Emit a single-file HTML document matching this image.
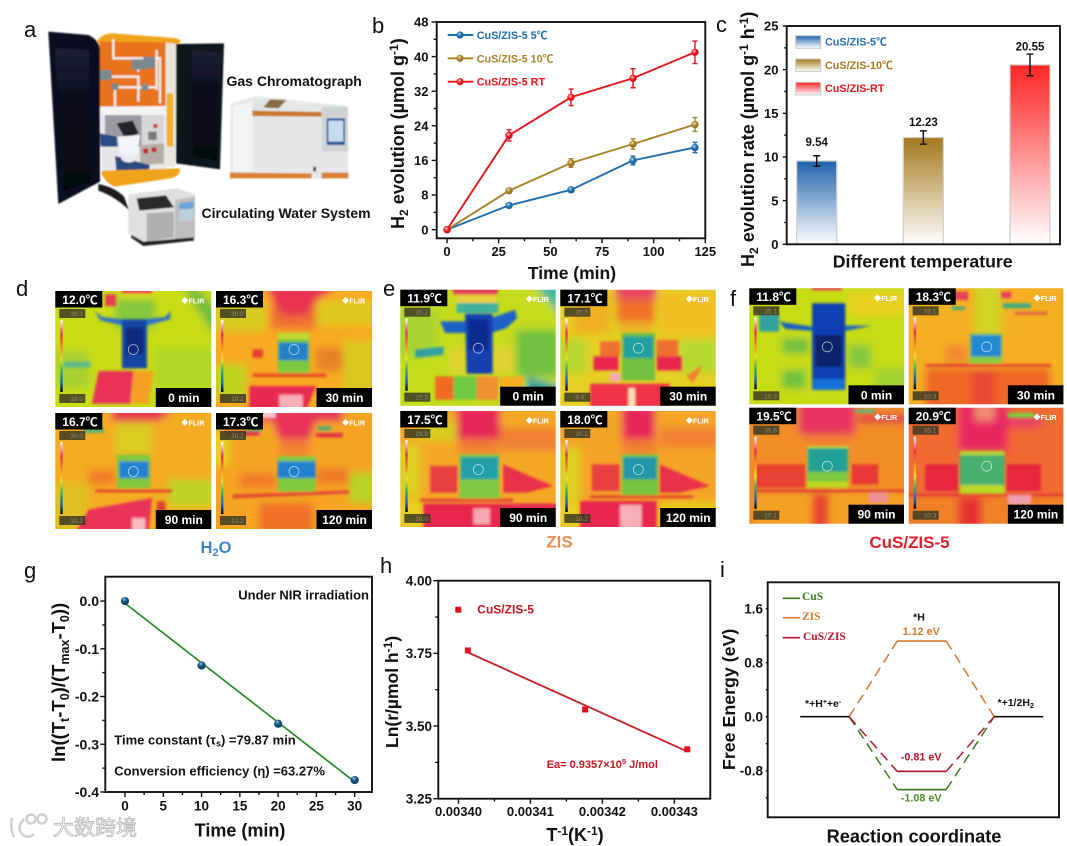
<!DOCTYPE html>
<html lang="en">
<head>
<meta charset="utf-8">
<title>CuS/ZIS-5 photothermal figure</title>
<style>
html,body{margin:0;padding:0;background:#fff;width:1067px;height:846px;overflow:hidden}
svg text{font-family:"Liberation Sans","Noto Sans CJK SC",sans-serif;fill:#111}
.b{font-weight:bold}
.serif{font-family:"Liberation Serif","Noto Serif CJK SC",serif;font-weight:bold}
.frame{fill:none;stroke:#111;stroke-width:1.9}
.tick{stroke:#111;stroke-width:1.4}
.lab{font-size:22px}
</style>
</head>
<body>
<svg id="figure" xmlns="http://www.w3.org/2000/svg" width="1067" height="846" viewBox="0 0 1067 846" style="display:block;filter:blur(.35px)">
<defs>
<filter id="tb" x="-15%" y="-15%" width="130%" height="130%"><feGaussianBlur stdDeviation="11"/></filter>
<filter id="tc" x="-15%" y="-15%" width="130%" height="130%"><feGaussianBlur stdDeviation="4"/></filter>
<filter id="pb" x="-5%" y="-5%" width="110%" height="110%"><feGaussianBlur stdDeviation="2.4"/></filter>
<linearGradient id="gBlue" x1="0" y1="0" x2="0" y2="1"><stop offset="0" stop-color="#1f62ab"/><stop offset="1" stop-color="#fff"/></linearGradient>
<linearGradient id="gGold" x1="0" y1="0" x2="0" y2="1"><stop offset="0" stop-color="#a3781c"/><stop offset="1" stop-color="#fff"/></linearGradient>
<linearGradient id="gRed" x1="0" y1="0" x2="0" y2="1"><stop offset="0" stop-color="#ff2424"/><stop offset="1" stop-color="#fff"/></linearGradient>
<linearGradient id="gBar" x1="0" y1="0" x2="0" y2="1"><stop offset="0" stop-color="#fff"/><stop offset=".2" stop-color="#e83050"/><stop offset=".42" stop-color="#f8a020"/><stop offset=".55" stop-color="#e8e030"/><stop offset=".7" stop-color="#40b060"/><stop offset=".88" stop-color="#1060c0"/><stop offset="1" stop-color="#000"/></linearGradient>
<linearGradient id="gDoor" x1="0" y1="0" x2="0" y2="1"><stop offset="0" stop-color="#1c2034"/><stop offset=".35" stop-color="#0c0f20"/><stop offset="1" stop-color="#05060e"/></linearGradient>
<radialGradient id="gMarkBlue" cx=".4" cy=".35" r=".7"><stop offset="0" stop-color="#b8dcf0"/><stop offset=".45" stop-color="#1f70b0"/><stop offset="1" stop-color="#155a95"/></radialGradient>
<radialGradient id="gMarkGold" cx=".4" cy=".35" r=".7"><stop offset="0" stop-color="#f4e4b0"/><stop offset=".45" stop-color="#a9842a"/><stop offset="1" stop-color="#8a6a1e"/></radialGradient>
<radialGradient id="gMarkRed" cx=".4" cy=".35" r=".7"><stop offset="0" stop-color="#ffd0d0"/><stop offset=".45" stop-color="#ec1820"/><stop offset="1" stop-color="#d01018"/></radialGradient>
<radialGradient id="gMarkNavy" cx=".4" cy=".3" r=".75"><stop offset="0" stop-color="#8cc8e4"/><stop offset=".4" stop-color="#12557f"/><stop offset="1" stop-color="#0b3d62"/></radialGradient>
</defs>

<!-- panel letters -->
<text class="lab" x="24" y="37">a</text>
<text class="lab" x="372" y="33">b</text>
<text class="lab" x="716" y="32">c</text>
<text class="lab" x="16" y="296">d</text>
<text class="lab" x="383" y="296">e</text>
<text class="lab" x="730" y="306">f</text>
<text class="lab" x="24" y="578">g</text>
<text class="lab" x="380" y="573">h</text>
<text class="lab" x="720" y="577">i</text>

<!-- panel a: apparatus photo drawn with shapes -->
<g transform="scale(.33333)">
<g filter="url(#pb)">
<g>
<path fill="#f0a41e" d="M288,132 Q298,100 340,100 L510,113 Q540,114 542,126 L530,134 L296,128Z"/>
<path fill="#e9721c" d="M298,125 L497,127 L497,322 L298,322Z"/>
<path fill="#e9e6da" d="M497,127 L530,132 L526,500 L497,500Z"/>
<path fill="#f0b030" d="M500,280 L520,280 L520,440 L500,440Z"/>
<path fill="#e6e6e8" d="M300,320 L497,320 L497,505 L305,512Z"/>
<path fill="#f4f4f4" d="M302,320 L497,318 L497,345 L302,345Z"/>
<path fill="#9a9aa2" d="M315,345 L425,345 L425,440 L315,440Z"/>
<path fill="#d6d6d6" d="M425,345 L490,345 L490,432 L425,432Z"/>
<path fill="#c03030" d="M460,372 h12 v12 h-12Z"/>
<path fill="#777" d="M445,395 h25 v25 h-25Z"/>
<path fill="#24242a" d="M350,370 L398,362 L416,400 L375,416Z"/>
<path fill="#f2f4fa" d="M352,410 L420,405 L412,470 L362,476Z"/>
<path fill="#2c4c84" d="M300,400 L350,410 L352,440 L302,440Z"/>
<path fill="#b5aea8" d="M420,435 L492,430 L492,490 L420,496Z"/>
<path fill="#b82a2a" d="M430,446 h14 v14 h-14Z M455,442 h14 v14 h-14Z"/>
<path fill="#2a4a82" d="M345,468 L450,495 L442,530 L352,542Z"/>
<path fill="#e8e8ee" d="M360,458 Q390,480 415,458 L410,480 Q385,495 365,480Z"/>
<path fill="#f0a41e" d="M305,512 L540,505 Q542,530 510,535 L345,560 Q320,552 305,522Z"/>
<g fill="none" stroke="#f2efe8" stroke-width="7">
<path d="M340,118 V175 H480 V310"/><path d="M305,230 H400 L415,230 V305"/><path d="M340,262 H470"/><path d="M345,262 V325"/><path d="M470,150 V270"/><path d="M415,175 V215"/>
</g>
<g fill="#7a8a8c"><path d="M395,178 h50 v30 h-50Z"/><path d="M300,210 h35 v30 h-35Z"/><path d="M430,170 h35 v35 h-35Z"/><path d="M335,250 h20 v20 h-20Z M425,252 h20 v20 h-20Z"/></g>
</g>
<g>
<path fill="#0d1020" d="M145,95 L265,105 Q298,120 300,150 L300,545 L175,612Z"/>
<path fill="url(#gDoor)" d="M165,145 L268,152 L272,548 L192,572Z"/>
</g>
<g>
<path fill="#10131f" d="M528,132 L672,130 L660,508 L528,490Z"/>
<path fill="url(#gDoor)" d="M575,150 L665,160 L650,482 L578,468Z"/>
</g>
<path fill="#1c1c1e" d="M295,552 Q345,562 372,590 L388,632 Q350,592 295,572Z"/>
<g>
<path fill="#e6e8e8" d="M692,310 L770,288 L1043,318 L1045,535 L690,535Z"/>
<path fill="#f2f4f4" d="M700,320 L757,305 L757,515 L700,515Z"/>
<path fill="#dfe2e3" d="M760,300 L850,296 L850,332 L760,328Z"/>
<path fill="#c9792f" d="M757,332 L965,336 L965,350 L757,348Z"/>
<path fill="#8c6a40" d="M810,298 L860,300 L835,325 L790,322Z"/>
<path fill="#d0d3d4" d="M965,320 L1043,320 L1045,455 L965,455Z"/>
<path fill="#2a5a9c" d="M980,355 L1035,355 L1035,435 L980,435Z"/>
<path fill="#c6dcee" d="M985,362 L1030,362 L1030,425 L985,425Z"/>
<path fill="#d97f35" d="M690,518 L935,520 L935,535 L690,535Z M965,518 H1045 V535 H965Z"/>
<path fill="#333" d="M940,500 h8 v14 h-8Z"/>
</g>
<g>
<path fill="#e0e0de" d="M385,582 L530,565 L585,582 L585,718 L430,735 L385,702Z"/>
<path fill="#bdbdbd" d="M525,600 L585,590 L585,712 L525,722Z"/>
<path fill="#2b2b2b" d="M410,595 L498,586 L522,622 L418,632Z"/>
<path fill="#6aa4dc" d="M538,610 L580,604 L580,625 L538,628Z"/>
<path fill="#bcd0d8" d="M538,630 L580,626 L580,660 L538,664Z"/>
<path fill="#b0b0b0" d="M440,640 L522,635 L522,712 L440,724Z"/>
<path fill="#222" d="M395,705 L430,725 L582,712 L582,722 L430,738 L392,712Z"/>
</g>
</g>
</g>
<text class="b" x="226.5" y="86" font-size="14">Gas Chromatograph</text>
<text class="b" x="201.5" y="218" font-size="14">Circulating Water System</text>

<!-- thermal panel d -->
<g>
<svg id="d1" x="55.3" y="291" width="156" height="116" viewBox="0 0 468 348" preserveAspectRatio="none"><g filter="url(#tb)">
<path fill="#c9dc14" d="M-40,-40H510V390H-40Z"/>
<path fill="#a8d030" d="M0,180H100V290H0Z"/><path fill="#b0d828" d="M300,170H478V300H300Z"/>
<path fill="#70bc40" d="M385,-10H425L488,60V150Z"/>
<path fill="#e8d820" d="M200,-10H300V12H200Z"/>
<path fill="#84c83c" d="M180,25H300V110H180Z"/>
</g><g filter="url(#tc)">
<path fill="#e83a50" d="M150,10H182V45H150Z"/><path fill="#e83a50" d="M200,-10H290V6H200Z"/>
<path fill="#2a6fc8" d="M118,60L140,78L200,85H270L330,78L345,60V85L270,104H205L135,88Z"/>
<path fill="#1544a8" d="M200,85H275V232H200Z"/><path fill="#0c2a80" d="M212,110H265V190H212Z"/>
<path fill="#e83258" d="M130,240H235L225,338H110Z"/><path fill="#f5a020" d="M235,240H295L280,338H225Z"/>
<path fill="#5fb88a" d="M25,212H105V230H25Z"/>
</g></svg>
<svg id="d2" x="216" y="291" width="156" height="116" viewBox="0 0 468 348" preserveAspectRatio="none"><g filter="url(#tb)">
<path fill="#f7aa20" d="M-40,-40H510V390H-40Z"/>
<path fill="#e0c820" d="M300,30H478V105H300Z"/><path fill="#d8cc20" d="M-10,30H150V120H-10Z"/>
<path fill="#c0d424" d="M-10,220H90V320H-10Z"/><path fill="#dcc820" d="M380,150H478V300H380Z"/>
<path fill="#f07030" d="M165,40H300V115H165Z"/><path fill="#e83050" d="M150,-20H370L300,30L270,75H200L170,30Z"/>
<path fill="#e88028" d="M300,170H380V240H300Z"/>
</g><g filter="url(#tc)">
<path fill="#c0d830" d="M185,125H280V150H185Z"/><path fill="#7cc83c" d="M185,145H280V245H185Z"/>
<path fill="#2080c8" d="M188,155H276V208H188Z"/>
<path fill="#e8452a" d="M110,248H330V258H110Z"/><path fill="#e83a30" d="M110,175H140V200H110Z"/>
<path fill="#e82c50" d="M100,285H300L270,358H100Z"/><path fill="#f8b0b8" d="M190,312H260V358H190Z"/>
</g></svg>
<svg id="d3" x="55.3" y="413" width="156" height="116" viewBox="0 0 468 348" preserveAspectRatio="none"><g filter="url(#tb)">
<path fill="#f4ac20" d="M-40,-40H510V390H-40Z"/>
<path fill="#e83050" d="M170,-20H360L310,25H170Z"/><path fill="#dccc24" d="M180,30H290V125H180Z"/>
<path fill="#c0d428" d="M340,200H478V280H340Z"/><path fill="#e0c020" d="M-10,210H100V358H-10Z"/>
<path fill="#f07a28" d="M100,170H180V215H100Z"/>
</g><g filter="url(#tc)">
<path fill="#60b070" d="M85,42H145V60H85Z"/>
<path fill="#80c83c" d="M185,125H285V225H185Z"/><path fill="#2080d0" d="M192,145H280V195H192Z"/>
<path fill="#e04030" d="M120,230H350V238H120Z"/>
<path fill="#e83058" d="M100,290L290,255L280,358H60Z"/><path fill="#f8b8c0" d="M230,315H270V358H230Z"/>
<path fill="#e04030" d="M305,265H330V320H305Z"/>
</g></svg>
<svg id="d4" x="216" y="413" width="156" height="116" viewBox="0 0 468 348" preserveAspectRatio="none"><g filter="url(#tb)">
<path fill="#f4a420" d="M-40,-40H510V390H-40Z"/>
<path fill="#e83058" d="M120,-20H380V25H300L280,80H190L170,25H120Z"/>
<path fill="#f08030" d="M190,80H280V130H190Z"/>
<path fill="#e8d020" d="M-10,60H40V160H-10Z"/><path fill="#b8d428" d="M400,180H478V270H400Z"/>
<path fill="#f07a28" d="M70,180H180V225H70Z M300,165H400V215H300Z"/>
<path fill="#f07028" d="M130,270H290V358H130Z"/>
</g><g filter="url(#tc)">
<path fill="#f8c8d0" d="M130,-10H180V15H130Z"/>
<path fill="#e03048" d="M30,55H130V68H30Z M300,60H380V73H300Z"/><path fill="#50a878" d="M95,45H135V55H95Z M305,40H345V52H305Z"/>
<path fill="#80c83c" d="M185,130H298V235H185Z"/><path fill="#2080d0" d="M185,145H298V195H185Z"/>
<path fill="#e04030" d="M50,245L400,232V241L50,256Z"/>
</g></svg>
</g>
<text class="b" x="216" y="553" font-size="16.5" text-anchor="middle" style="fill:#3f86c8">H<tspan font-size="11" dy="3" style="fill:#3f86c8">2</tspan><tspan dy="-3" style="fill:#3f86c8">O</tspan></text>

<!-- thermal panel e -->
<g>
<svg id="e1" x="400.3" y="289.7" width="155.4" height="116" viewBox="0 0 468 348" preserveAspectRatio="none"><g filter="url(#tb)">
<path fill="#c4dc1c" d="M-40,-40H510V390H-40Z"/>
<path fill="#20a0a0" d="M380,260L488,290V368H380Z"/><path fill="#40b8a0" d="M400,-20H488V80Z"/>
<path fill="#70c040" d="M350,120H478V260H350Z"/><path fill="#a8d430" d="M-10,60H110V200H-10Z"/>
<path fill="#e0d030" d="M150,170H195V250H150Z M280,170H340V250H280Z"/>
</g><g filter="url(#tc)">
<path fill="#e83c5a" d="M150,-10H300L290,15H165Z"/><path fill="#e8d040" d="M170,15H290V40H170Z"/>
<path fill="#40b0a0" d="M170,40H295V70H170Z"/>
<path fill="#1c60c8" d="M120,95L200,95L200,130H135Z M272,130V85L345,60L352,85L320,115Z"/>
<path fill="#1240b0" d="M195,72H278V252H200Z"/><path fill="#0c2a90" d="M205,90H265V180H205Z"/>
<path fill="#30a0a0" d="M45,180L130,170V195L45,205Z"/>
<path fill="#f06a20" d="M105,260H160V330H105Z"/><path fill="#70c840" d="M160,260H230V330H160Z"/>
<path fill="#f09030" d="M230,260H295V330H230Z"/><path fill="#f4b020" d="M300,260H370V315H300Z"/>
</g></svg>
<svg id="e2" x="560.3" y="289.7" width="155.4" height="116" viewBox="0 0 468 348" preserveAspectRatio="none"><g filter="url(#tb)">
<path fill="#e4cf20" d="M-40,-40H510V390H-40Z"/>
<path fill="#f0c020" d="M300,10H478V140H300Z"/><path fill="#f0b024" d="M40,10H150V130H40Z"/>
<path fill="#e84860" d="M165,-20H290V30H165Z"/><path fill="#f07028" d="M170,30H285V100H170Z"/><path fill="#eeb028" d="M180,95H280V130H180Z"/>
<path fill="#b8d830" d="M-10,150H80V250H-10Z M360,150H478V250H360Z"/>
</g><g filter="url(#tc)">
<path fill="#70c040" d="M185,130H285V272H185Z"/><path fill="#20a0a0" d="M190,140H280V205H190Z"/>
<path fill="#f07030" d="M120,155H180V200H120Z M290,150H355V200H290Z"/>
<path fill="#e82850" d="M100,200H175V242H100Z M290,200H365V242H290Z"/>
<path fill="#f03048" d="M90,282H330V358H90Z"/><path fill="#f8a8c0" d="M150,250H180V275H150Z"/>
<path fill="#f08030" d="M380,260L430,225L400,280Z"/><path fill="#f8e0b8" d="M205,295H225V358H205Z"/>
</g></svg>
<svg id="e3" x="400.3" y="411" width="155.4" height="116" viewBox="0 0 468 348" preserveAspectRatio="none"><g filter="url(#tb)">
<path fill="#f4a828" d="M-40,-40H510V390H-40Z"/>
<path fill="#e82858" d="M170,-20H300V85H170Z"/><path fill="#f08030" d="M175,85H295V130H175Z M300,50H478V120H300Z"/>
<path fill="#dcd020" d="M-10,100H60V260H-10Z"/><path fill="#d8cc20" d="M60,30H170V90H60Z"/>
<path fill="#e8d020" d="M-10,270H70V358H-10Z"/>
</g><g filter="url(#tc)">
<path fill="#80c840" d="M178,130H298V262H178Z"/><path fill="#20a0a8" d="M182,138H295V205H182Z"/>
<path fill="#e83048" d="M310,160L460,225L380,245H310Z"/><path fill="#e84040" d="M90,165H172V245H90Z"/>
<path fill="#e03030" d="M60,264H340V272H60Z"/><path fill="#e82850" d="M70,278H478V358H70Z"/>
<path fill="#f8a8b0" d="M220,292H270V340H220Z"/>
</g></svg>
<svg id="e4" x="560.3" y="411" width="155.4" height="116" viewBox="0 0 468 348" preserveAspectRatio="none"><g filter="url(#tb)">
<path fill="#f4a428" d="M-40,-40H510V390H-40Z"/>
<path fill="#e82858" d="M185,-20H285V85H185Z"/><path fill="#f08030" d="M185,85H290V130H185Z M300,50H478V110H300Z"/>
<path fill="#dcd020" d="M-10,110H60V270H-10Z"/>
<path fill="#e8d020" d="M300,275H478V358H300Z"/><path fill="#e8d020" d="M-10,275H60V358H-10Z"/>
</g><g filter="url(#tc)">
<path fill="#78c440" d="M185,130H295V252H185Z"/><path fill="#2098a8" d="M190,138H290V205H190Z"/>
<path fill="#e83048" d="M300,160L450,225L360,245H300Z"/><path fill="#e84040" d="M95,160H178V240H95Z"/>
<path fill="#e03030" d="M90,254H400V261H90Z"/><path fill="#e82850" d="M60,270H290V358H60Z"/>
<path fill="#f8b0b8" d="M180,282H245V358H180Z"/>
</g></svg>
</g>
<text class="b" x="559.5" y="547.5" font-size="17" text-anchor="middle" style="fill:#ee8c4e">ZIS</text>

<!-- thermal panel f -->
<g>
<svg id="f1" x="749.3" y="288.3" width="154.7" height="116" viewBox="0 0 468 348" preserveAspectRatio="none"><g filter="url(#tb)">
<path fill="#c8dc18" d="M-40,-40H510V390H-40Z"/>
<path fill="#e8d020" d="M300,10H478V80H300Z"/><path fill="#a0d430" d="M380,240H488V300H380Z"/>
<path fill="#70c040" d="M100,150H180V195H100Z M100,245H170V300H100Z"/>
<path fill="#84c83c" d="M300,170H368V240H300Z"/>
</g><g filter="url(#tc)">
<path fill="#e84060" d="M190,-10H280V6H190Z"/>
<path fill="#30a0a0" d="M30,78H90V130H30Z"/>
<path fill="#1c60c0" d="M90,100L190,115V128L110,122Z M290,112H370L290,128Z"/>
<path fill="#1040b0" d="M190,45H290V305H190Z"/><path fill="#082468" d="M200,140H280V235H200Z"/>
<path fill="#1870d8" d="M192,272H288V305H192Z"/>
</g></svg>
<svg id="f2" x="908.7" y="288.3" width="154.7" height="116" viewBox="0 0 468 348" preserveAspectRatio="none"><g filter="url(#tb)">
<path fill="#f4b020" d="M-40,-40H510V390H-40Z"/>
<path fill="#d0d428" d="M200,-20H280V140H200Z"/>
<path fill="#f08a30" d="M110,170H180V225H110Z"/>
<path fill="#f06828" d="M50,238H430V368H50Z"/>
<path fill="#e84830" d="M190,245H260V368H190Z"/>
</g><g filter="url(#tc)">
<path fill="#e84060" d="M130,10H180V35H130Z M280,10H310V30H280Z"/>
<path fill="#40a880" d="M130,55H170V65H130Z M285,45H370V60H285Z"/><path fill="#e06840" d="M320,70H420V80H320Z"/>
<path fill="#88cc40" d="M185,135H283V225H185Z"/><path fill="#2088d0" d="M188,140H280V205H188Z"/>
<path fill="#e03030" d="M50,228H430V235H50Z"/>
</g></svg>
<svg id="f3" x="749.3" y="407.7" width="154.7" height="116" viewBox="0 0 468 348" preserveAspectRatio="none"><g filter="url(#tb)">
<path fill="#f28c28" d="M-40,-40H510V390H-40Z"/>
<path fill="#e83060" d="M150,-20H320V80H150Z"/><path fill="#f08030" d="M170,80H305V115H170Z"/>
<path fill="#e03848" d="M330,20H478V45H330Z"/>
<path fill="#f4a020" d="M20,258H478V368H20Z"/>
<path fill="#e84030" d="M190,258H240V368H190Z"/>
</g><g filter="url(#tc)">
<path fill="#60b878" d="M320,5H380V15H320Z"/>
<path fill="#c0d820" d="M175,115H300V240H175Z"/><path fill="#80c840" d="M175,120H300V222H175Z"/><path fill="#20a098" d="M178,122H298V192H178Z"/>
<path fill="#e84030" d="M20,170H170V240H20Z"/><path fill="#e83838" d="M310,170H390V230H310Z"/>
<path fill="#d83030" d="M20,246H468V253H20Z"/>
<path fill="#f09098" d="M360,255H420V285H360Z"/>
</g></svg>
<svg id="f4" x="908.7" y="407.7" width="154.7" height="116" viewBox="0 0 468 348" preserveAspectRatio="none"><g filter="url(#tb)">
<path fill="#f06a30" d="M-40,-40H510V390H-40Z"/>
<path fill="#e82860" d="M150,-20H300V130H150Z"/><path fill="#f08a70" d="M200,-20H260V40H200Z"/>
<path fill="#e83868" d="M300,30H400V60H300Z"/>
<path fill="#f08028" d="M-10,268H478V368H-10Z"/>
<path fill="#e83030" d="M150,268H220V368H150Z"/>
</g><g filter="url(#tc)">
<path fill="#80c840" d="M300,15H380V30H300Z"/>
<path fill="#b8d828" d="M155,130H290V258H155Z"/><path fill="#48b070" d="M155,142H290V232H155Z"/>
<path fill="#e82840" d="M50,170H150V250H50Z M295,170H400V250H295Z"/>
<path fill="#e03030" d="M0,258H468V265H0Z"/>
<path fill="#f0a0b0" d="M300,262H370V290H300Z"/>
</g></svg>
</g>
<text class="b" x="909.5" y="548" font-size="17" text-anchor="middle" style="fill:#e0202a">CuS/ZIS-5</text>

<g id="thermal-overlays"></g>

<!-- chart b -->
<g id="chartB">
<text class="b" transform="translate(404,229) rotate(-90)" font-size="18">H<tspan font-size="12" dy="4">2</tspan><tspan dy="-4"> evolution  (µmol g</tspan><tspan font-size="12" dy="-6">-1</tspan><tspan dy="6">)</tspan></text>
<text class="b" x="572" y="279" font-size="17.5" text-anchor="middle">Time (min)</text>
<g>
<line x1="447.7" x2="473.3" y1="35" y2="35" stroke="#1f6fb0" stroke-width="1.9"/>
<circle cx="460" cy="35" r="3.6" fill="url(#gMarkBlue)"/>
<text class="b" x="476.7" y="39" font-size="10.8" style="fill:#1f6fb0">CuS/ZIS-5 5℃</text>
<line x1="447.7" x2="473.3" y1="58.3" y2="58.3" stroke="#a9842a" stroke-width="1.9"/>
<circle cx="460" cy="58.3" r="3.6" fill="url(#gMarkGold)"/>
<text class="b" x="476.7" y="62.3" font-size="10.8" style="fill:#a9842a">CuS/ZIS-5 10℃</text>
<line x1="447.7" x2="473.3" y1="81.7" y2="81.7" stroke="#e8141e" stroke-width="1.9"/>
<circle cx="460" cy="81.7" r="3.6" fill="url(#gMarkRed)"/>
<text class="b" x="476.7" y="85.7" font-size="10.8" style="fill:#e8141e">CuS/ZIS-5 RT</text>
</g>
</g>

<!-- chart c -->
<g id="chartC">
<text class="b" transform="translate(754,267) rotate(-90)" font-size="18">H<tspan font-size="12" dy="4">2</tspan><tspan dy="-4"> evolution rate (µmol g</tspan><tspan font-size="12" dy="-6">-1</tspan><tspan dy="6"> h</tspan><tspan font-size="12" dy="-6">-1</tspan><tspan dy="6">)</tspan></text>
<text class="b" x="922.7" y="267.5" font-size="17.7" text-anchor="middle">Different temperature</text>
<g>
<rect x="795.7" y="35.7" width="25" height="12.6" fill="url(#gBlue)" stroke="#c8c8c8"/>
<text class="b" x="825" y="45.5" font-size="10.8" style="fill:#2a6db0">CuS/ZIS-5℃</text>
<rect x="795.7" y="59" width="25" height="12.6" fill="url(#gGold)" stroke="#c8c8c8"/>
<text class="b" x="825" y="69" font-size="10.8" style="fill:#a57c25">CuS/ZIS-10℃</text>
<rect x="795.7" y="82.3" width="25" height="12.6" fill="url(#gRed)" stroke="#c8c8c8"/>
<text class="b" x="825" y="92" font-size="10.8" style="fill:#e8141e">CuS/ZIS-RT</text>
</g>
</g>

<!-- chart g -->
<g id="chartG">
<text class="b" transform="translate(65,762) rotate(-90)" font-size="18.5">ln((T<tspan font-size="12.5" dy="4">t</tspan><tspan dy="-4">-T</tspan><tspan font-size="12.5" dy="4">0</tspan><tspan dy="-4">)/(T</tspan><tspan font-size="12.5" dy="4">max</tspan><tspan dy="-4">-T</tspan><tspan font-size="12.5" dy="4">0</tspan><tspan dy="-4">))</tspan></text>
<text class="b" x="240" y="836.5" font-size="18" text-anchor="middle">Time (min)</text>
<text class="b" x="369" y="599.5" font-size="13" text-anchor="end">Under NIR irradiation</text>
<text class="b" x="114.3" y="744.5" font-size="13">Time constant (τ<tspan font-size="9" dy="2">s</tspan><tspan dy="-2">) =79.87 min</tspan></text>
<text class="b" x="114.3" y="775.5" font-size="13">Conversion efficiency (η) =63.27%</text>
</g>

<!-- chart h -->
<g id="chartH">
<text class="b" transform="translate(398,748) rotate(-90)" font-size="17.5">Ln(r/µmol h<tspan font-size="12" dy="-6">-1</tspan><tspan dy="6">)</tspan></text>
<text class="b" x="575" y="841" font-size="18" text-anchor="middle">T<tspan font-size="12" dy="-6">-1</tspan><tspan dy="6">(K</tspan><tspan font-size="12" dy="-6">-1</tspan><tspan dy="6">)</tspan></text>
<rect x="455.3" y="606.7" width="6" height="6" fill="#e01020"/>
<text class="b" x="477.3" y="613.5" font-size="12" style="fill:#c8141e">CuS/ZIS-5</text>
<text class="b" x="546.7" y="768" font-size="11" style="fill:#c8141e">Ea= 0.9357×10<tspan font-size="7.5" dy="-4" style="fill:#c8141e">5</tspan><tspan dy="4" style="fill:#c8141e"> J/mol</tspan></text>
</g>

<!-- chart i -->
<g id="chartI">
<text class="b" transform="translate(735,770) rotate(-90)" font-size="17.8">Free Energy (eV)</text>
<text class="b" x="914" y="842.5" font-size="18.2" text-anchor="middle">Reaction coordinate</text>
<g>
<line x1="782.7" x2="800" y1="598.3" y2="598.3" stroke="#3d7a1a" stroke-width="1.6"/>
<text class="serif" x="802" y="600" font-size="11.5" style="fill:#3d7a1a">CuS</text>
<line x1="782.7" x2="800" y1="617.7" y2="617.7" stroke="#d9772e" stroke-width="1.6"/>
<text class="serif" x="802" y="620" font-size="11.5" style="fill:#d9772e">ZIS</text>
<line x1="782.7" x2="800" y1="637.7" y2="637.7" stroke="#b2182b" stroke-width="1.6"/>
<text class="serif" x="803" y="640" font-size="11.5" style="fill:#b2182b">CuS/ZIS</text>
</g>
<text class="b" x="919" y="620.5" font-size="10.5" text-anchor="middle">*H</text>
<text class="b" x="805" y="707" font-size="10.5">*+H<tspan font-size="7" dy="-3">+</tspan><tspan dy="3">+e</tspan><tspan font-size="7" dy="-3">-</tspan></text>
<text class="b" x="997.5" y="706" font-size="10.5">*+1/2H<tspan font-size="7.5" dy="2">2</tspan></text>
</g>

<!-- watermark -->
<g>
<g fill="none" stroke="#cfcfcf" stroke-width="2.4">
<path d="M12,818 Q10,830 14,837 M24,819 Q15,828 24,836 Q30,838 34,834"/>
<circle cx="31" cy="819" r="4.5"/><circle cx="42" cy="819" r="4.5"/>
</g>
<text x="53" y="835" font-size="21" style="fill:#fff;stroke:#bdbdbd;stroke-width:.9;font-family:'Liberation Sans','Noto Sans CJK SC',sans-serif">大数跨境</text>
</g>

<script>
/* Panel b series */
const bTimes = [0, 30, 60, 90, 120];
const bBlue = [0, 5.6, 9.2, 16, 19];
const bGold = [0, 9, 15.4, 19.8, 24.3];
const bRed = [0, 21.8, 30.6, 35, 41];
const bBlueErr = [0, 0.5, 0.5, 1, 1.2];
const bGoldErr = [0, 0.4, 1, 1.2, 1.6];
const bRedErr = [0, 1.3, 1.9, 2.2, 2.6];
const bXTicks = [0, 25, 50, 75, 100, 125];
const bXMinor = [12.5, 37.5, 62.5, 87.5, 112.5];
const bYTicks = [0, 8, 16, 24, 32, 40, 48];
const bYMinor = [4, 12, 20, 28, 36, 44];

/* Panel c series */
const cCategories = ['CuS/ZIS-5℃', 'CuS/ZIS-10℃', 'CuS/ZIS-RT'];
const cRates = [9.54, 12.23, 20.55];
const cErrors = [0.6, 0.76, 1.24];
const cYTicks = [0, 5, 10, 15, 20, 25];
const cYMinor = [2.5, 7.5, 12.5, 17.5, 22.5];

/* Panel g series */
const gTimes = [0, 10, 20, 30];
const gValues = [0, -0.135, -0.257, -0.375];
const gXTicks = [0, 5, 10, 15, 20, 25, 30];
const gXMinor = [2.5, 7.5, 12.5, 17.5, 22.5, 27.5];
const gYTicks = [0, -0.1, -0.2, -0.3, -0.4];
const gYLabels = ['0.0', '-0.1', '-0.2', '-0.3', '-0.4'];
const gYMinor = [-0.05, -0.15, -0.25, -0.35];

/* Panel h series */
const hInverseT = [0.0034013, 0.0034176, 0.0034318];
const hLnRate = [3.76, 3.557, 3.42];
const hXTicks = [0.0034, 0.00341, 0.00342, 0.00343];
const hXLabels = ['0.00340', '0.00341', '0.00342', '0.00343'];
const hXMinor = [0.003405, 0.003415, 0.003425];
const hYTicks = [3.25, 3.5, 3.75, 4];
const hYLabels = ['3.25', '3.50', '3.75', '4.00'];
const hYMinor = [3.375, 3.625, 3.875];

/* Panel i series */
const iStages = ['initial', 'adsorbed-h', 'final'];
const iZis = [0, 1.12, 0];
const iCus = [0, -1.08, 0];
const iCusZis = [0, -0.81, 0];
const iYTicks = [-0.8, 0, 0.8, 1.6];
const iYLabels = ['-0.8', '0.0', '0.8', '1.6'];
const iYMinor = [-1.2, -0.4, 0.4, 1.2];

/* Thermal captions */
const thermalReadouts = [
  ['d1', '12.0℃', '0 min', '30.1', '10.0'],
  ['d2', '16.3℃', '30 min', '30.0', '10.2'],
  ['d3', '16.7℃', '90 min', '30.0', '10.2'],
  ['d4', '17.3℃', '120 min', '30.2', '10.2'],
  ['e1', '11.9℃', '0 min', '30.2', '10.3'],
  ['e2', '17.1℃', '30 min', '30.0', '9.8'],
  ['e3', '17.5℃', '90 min', '29.9', '10.0'],
  ['e4', '18.0℃', '120 min', '30.2', '10.2'],
  ['f1', '11.8℃', '0 min', '35.1', '10.3'],
  ['f2', '18.3℃', '30 min', '35.1', '10.3'],
  ['f3', '19.5℃', '90 min', '35.6', '10.1'],
  ['f4', '20.9℃', '120 min', '35.1', '10.3']
];

const SVGNS = 'http://www.w3.org/2000/svg';
function mk(parent, tag, attrs, text) {
  const el = document.createElementNS(SVGNS, tag);
  Object.keys(attrs).forEach(k => el.setAttribute(k, attrs[k]));
  if (text !== undefined) el.textContent = text;
  parent.appendChild(el);
  return el;
}
function scale(d0, d1, r0, r1) {
  return v => r0 + (v - d0) * (r1 - r0) / (d1 - d0);
}
function leastSquares(xs, ys) {
  const n = xs.length;
  const mx = xs.reduce((a, b) => a + b, 0) / n;
  const my = ys.reduce((a, b) => a + b, 0) / n;
  let num = 0, den = 0;
  xs.forEach((x, i) => { num += (x - mx) * (ys[i] - my); den += (x - mx) * (x - mx); });
  const slope = num / den;
  return v => my + slope * (v - mx);
}
function drawFrame(g, left, top, right, bottom) {
  const frame = mk(g, 'rect', {x: left, y: top, width: right - left, height: bottom - top, class: 'frame'});
  
  
}
function drawLeftAxis(g, y, axisX, ticks, labels, minors, labelX, size, majorLen, minorLen) {
  ticks.forEach((v, i) => {
    const t = mk(g, 'line', {x1: axisX - majorLen, x2: axisX, y1: y(v), y2: y(v), class: 'tick'});
    
    
    const l = mk(g, 'text', {x: labelX, y: y(v) + size * 0.36, 'font-size': size, 'text-anchor': 'end', class: 'b'}, labels[i]);
    
    
  });
  minors.forEach(v => {
    const t = mk(g, 'line', {x1: axisX - minorLen, x2: axisX, y1: y(v), y2: y(v), class: 'tick'});
    
    
  });
}
function drawBottomAxis(g, x, axisY, ticks, labels, minors, labelY, size) {
  ticks.forEach((v, i) => {
    const t = mk(g, 'line', {x1: x(v), x2: x(v), y1: axisY, y2: axisY + 5, class: 'tick'});
    
    
    const l = mk(g, 'text', {x: x(v), y: labelY, 'font-size': size, 'text-anchor': 'middle', class: 'b'}, labels[i]);
    
    
  });
  minors.forEach(v => {
    const t = mk(g, 'line', {x1: x(v), x2: x(v), y1: axisY, y2: axisY + 3, class: 'tick'});
    
    
  });
}

/* chart b */
(function () {
  const g = document.getElementById('chartB');
  const x = scale(-5, 125, 436.7, 705.3);
  const y = scale(-2, 48, 238.3, 22);
  drawFrame(g, 436.7, 22, 705.3, 238.3);
  drawLeftAxis(g, y, 436.7, bYTicks, bYTicks.map(String), bYMinor, 428.5, 13, 5, 3);
  drawBottomAxis(g, x, 238.3, bXTicks, bXTicks.map(String), bXMinor, 256, 13);
  function series(values, errors, color, marker, name) {
    const line = mk(g, 'polyline', {points: bTimes.map((t, i) => x(t) + ',' + y(values[i])).join(' '), fill: 'none', stroke: color, 'stroke-width': 1.9});
    
    
    bTimes.forEach((t, i) => {
      if (errors[i] > 0) {
        const bar = mk(g, 'path', {
          d: 'M' + x(t) + ',' + y(values[i] + errors[i]) + 'V' + y(values[i] - errors[i]) +
             'M' + (x(t) - 2.5) + ',' + y(values[i] + errors[i]) + 'h5' +
             'M' + (x(t) - 2.5) + ',' + y(values[i] - errors[i]) + 'h5',
          fill: 'none', stroke: color, 'stroke-width': 1.4});
        
        
      }
      const dot = mk(g, 'circle', {cx: x(t), cy: y(values[i]), r: 3.7, fill: marker});
      
      
    });
  }
  series(bBlue, bBlueErr, '#1f6fb0', 'url(#gMarkBlue)', '5c');
  series(bGold, bGoldErr, '#a9842a', 'url(#gMarkGold)', '10c');
  series(bRed, bRedErr, '#e8141e', 'url(#gMarkRed)', 'rt');
})();

/* chart c */
(function () {
  const g = document.getElementById('chartC');
  const y = scale(0, 25, 244.3, 26);
  const band = i => 816.7 + i * 106.65;
  const fills = ['url(#gBlue)', 'url(#gGold)', 'url(#gRed)'];
  const labelGaps = [10, 5, 3.6];
  cCategories.forEach((name, i) => {
    const bar = mk(g, 'rect', {x: band(i) - 20, y: y(cRates[i]), width: 40, height: y(0) - y(cRates[i]), fill: fills[i], stroke: '#cfcfcf', 'stroke-width': 1.2});
    
    
    const top = y(cRates[i] + cErrors[i]);
    const bottom = y(cRates[i] - cErrors[i]);
    const err = mk(g, 'path', {d: 'M' + band(i) + ',' + top + 'V' + bottom + 'M' + (band(i) - 3.5) + ',' + top + 'h7M' + (band(i) - 3.5) + ',' + bottom + 'h7', fill: 'none', stroke: '#111', 'stroke-width': 1.4});
    
    
    const val = mk(g, 'text', {x: band(i), y: top - labelGaps[i], 'font-size': 11.5, 'text-anchor': 'middle', class: 'b'}, cRates[i].toFixed(2));
    
    
  });
  drawFrame(g, 786.7, 26, 1060, 244.3);
  drawLeftAxis(g, y, 786.7, cYTicks, cYTicks.map(String), cYMinor, 778.5, 13, 4, 2.5);
})();

/* chart g */
(function () {
  const g = document.getElementById('chartG');
  const x = scale(-2.57, 32.26, 105.3, 372);
  const y = scale(-0.4, 0.051, 792, 576.7);
  drawFrame(g, 105.3, 576.7, 372, 792);
  drawLeftAxis(g, y, 105.3, gYTicks, gYLabels, gYMinor, 99, 14, 5, 3);
  drawBottomAxis(g, x, 792, gXTicks, gXTicks.map(String), gXMinor, 810.5, 13.5);
  const fit = leastSquares(gTimes, gValues);
  const first = gTimes[0];
  const last = gTimes[gTimes.length - 1];
  const line = mk(g, 'line', {x1: x(first), y1: y(fit(first)), x2: x(last), y2: y(fit(last)), stroke: '#2a8a2a', 'stroke-width': 1.7});
  
  
  gTimes.forEach((t, i) => {
    const dot = mk(g, 'circle', {cx: x(t), cy: y(gValues[i]), r: 4.1, fill: 'url(#gMarkNavy)'});
    
    
  });
})();

/* chart h */
(function () {
  const g = document.getElementById('chartH');
  const x = scale(0.0033972, 0.003435, 438.3, 710.3);
  const y = scale(3.25, 4, 798.7, 580.7);
  drawFrame(g, 438.3, 580.7, 710.3, 798.7);
  drawLeftAxis(g, y, 438.3, hYTicks, hYLabels, hYMinor, 432, 13.5, 5, 3);
  drawBottomAxis(g, x, 798.7, hXTicks, hXLabels, hXMinor, 816, 13);
  const fit = leastSquares(hInverseT, hLnRate);
  const first = hInverseT[0];
  const last = hInverseT[hInverseT.length - 1];
  const line = mk(g, 'line', {x1: x(first), y1: y(fit(first)), x2: x(last), y2: y(fit(last)), stroke: '#c82028', 'stroke-width': 1.8});
  
  
  hInverseT.forEach((t, i) => {
    const pt = mk(g, 'rect', {x: x(t) - 3, y: y(hLnRate[i]) - 3, width: 6, height: 6, fill: '#e01020'});
    
    
  });
})();

/* chart i */
(function () {
  const g = document.getElementById('chartI');
  const y = scale(-1.49, 1.99, 817.3, 582.3);
  const stageX = i => 824.7 + i * 97;
  const half = 24.5;
  drawFrame(g, 767.7, 582.3, 1059, 817.3);
  drawLeftAxis(g, y, 767.7, iYTicks, iYLabels, iYMinor, 763, 13.5, 2, 2);
  function profile(values, color, name, solid) {
    for (let i = 0; i + 1 < values.length; i++) {
      const c = mk(g, 'line', {x1: stageX(i) + half, y1: y(values[i]), x2: stageX(i + 1) - half, y2: y(values[i + 1]), stroke: color, 'stroke-width': 1.5, 'stroke-dasharray': '10 6'});
      
      
    }
    values.forEach((v, i) => {
      if (v === 0 && !solid) return;
      const stroke = v === 0 ? '#111' : color;
      const lvl = mk(g, 'line', {x1: stageX(i) - half, x2: stageX(i) + half, y1: y(v), y2: y(v), stroke: stroke, 'stroke-width': 1.7});
      
      
    });
  }
  profile(iCus, '#3d7a1a', 'cus', false);
  profile(iCusZis, '#b2182b', 'cus-zis', false);
  profile(iZis, '#d9772e', 'zis', true);
  function levelLabel(value, offset, color, name) {
    const t = mk(g, 'text', {x: stageX(1) - 0.5, y: y(value) + offset, 'font-size': 10.8, 'text-anchor': 'middle', class: 'b', style: 'fill:' + color}, value.toFixed(2) + ' eV');
    
    
  }
  levelLabel(iZis[1], -6, '#d9772e', 'zis');
  levelLabel(iCusZis[1], -11, '#b2182b', 'cus-zis');
  levelLabel(iCus[1], 12, '#4f8f2a', 'cus');
})();

/* thermal overlay labels */
(function () {
  const g = document.getElementById('thermal-overlays');
  thermalReadouts.forEach(row => {
    const host = document.getElementById(row[0]);
    const px = +host.getAttribute('x');
    const py = +host.getAttribute('y');
    const w = +host.getAttribute('width');
    const h = +host.getAttribute('height');

    const tempBox = mk(g, 'rect', {x: px, y: py, width: 47, height: 16.5, fill: '#000'});
    
    
    const temp = mk(g, 'text', {x: px + 7, y: py + 12.8, 'font-size': 12, class: 'b', style: 'fill:#fff'}, row[1]);
    
    

    const timeBox = mk(g, 'rect', {x: px + w - 55.5, y: py + h - 19, width: 55.5, height: 19, fill: '#000'});
    
    
    const time = mk(g, 'text', {x: px + w - 27.5, y: py + h - 5, 'font-size': 12, 'text-anchor': 'middle', class: 'b', style: 'fill:#fff'}, row[2]);
    
    

    const hiBox = mk(g, 'rect', {x: px + 4, y: py + 18, width: 26, height: 9, fill: '#3c3a22', opacity: .85});
    
    
    const hi = mk(g, 'text', {x: px + 15, y: py + 25, 'font-size': 6.5, style: 'fill:#8a8a7a'}, row[3]);
    
    

    const loBox = mk(g, 'rect', {x: px + 4, y: py + 103, width: 26, height: 9, fill: '#3c3a22', opacity: .85});
    
    
    const lo = mk(g, 'text', {x: px + 15, y: py + 110, 'font-size': 6.5, style: 'fill:#8a8a7a'}, row[4]);
    
    

    const bar = mk(g, 'rect', {x: px + 5, y: py + 29, width: 2.4, height: 72, fill: 'url(#gBar)'});
    
    

    const spot = mk(g, 'circle', {cx: px + 78, cy: py + 58.5, r: 5, fill: 'none', stroke: '#fff', 'stroke-opacity': .65, 'stroke-width': .8});
    
    

    const logo = mk(g, 'text', {x: px + w - 30, y: py + 12.5, 'font-size': 7.2, class: 'b', style: 'fill:#fff'}, '◆FLIR');
    
    
  });
})();
</script>
</svg>
</body>
</html>
